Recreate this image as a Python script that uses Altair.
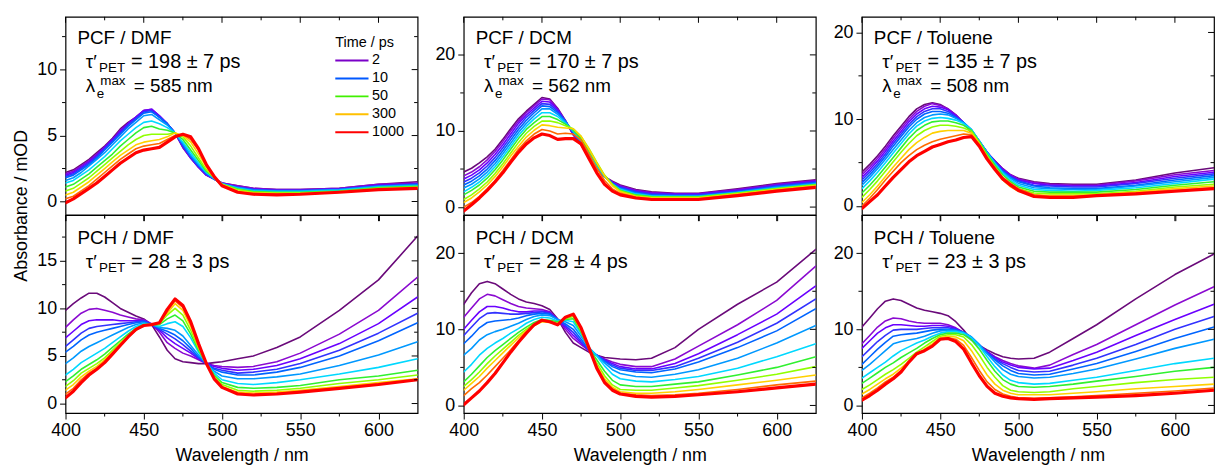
import altair as alt
import pandas as pd

FONT = "Liberation Sans"

wavelength = [400, 405, 410, 415, 420, 425, 430, 435, 440, 445, 450, 455, 460, 465,
              470, 475, 480, 485, 490, 495, 500, 510, 520, 535, 550, 575, 600, 625]

curve_ids = ["c00", "c01", "c02", "c03", "c04", "c05", "c06", "c07", "c08", "c09", "c10", "c11"]
curve_colors = ["#6a0a7a", "#8a0ad0", "#6a00ff", "#3232ff", "#0064ff", "#0098ff",
                "#00d8ff", "#30f030", "#90ff00", "#ffd000", "#ff6a00", "#ff0000"]

pcf_dmf = [
    [2.2, 2.4, 2.8, 3.2, 3.7, 4.2, 4.8, 5.5, 6.0, 6.4, 6.9, 6.9, 6.4, 5.9, 5.2, 4.1, 3.3, 2.6, 2.0, 1.7, 1.4, 1.2, 1.0, 0.9, 0.9, 1.0, 1.3, 1.5],
    [2.1, 2.3, 2.7, 3.1, 3.6, 4.1, 4.7, 5.4, 5.9, 6.4, 6.9, 7.0, 6.5, 5.9, 5.2, 4.1, 3.3, 2.6, 2.0, 1.7, 1.4, 1.2, 1.0, 0.9, 0.9, 1.0, 1.3, 1.4],
    [2.0, 2.2, 2.6, 3.0, 3.5, 4.1, 4.7, 5.3, 5.9, 6.4, 6.9, 7.0, 6.5, 5.9, 5.2, 4.2, 3.3, 2.6, 2.0, 1.7, 1.4, 1.1, 0.95, 0.85, 0.85, 0.95, 1.25, 1.35],
    [1.9, 2.1, 2.5, 2.9, 3.4, 4.0, 4.6, 5.2, 5.8, 6.3, 6.8, 6.9, 6.4, 5.9, 5.2, 4.2, 3.4, 2.7, 2.1, 1.7, 1.35, 1.1, 0.9, 0.85, 0.85, 0.95, 1.2, 1.3],
    [1.8, 2.0, 2.4, 2.8, 3.3, 3.9, 4.5, 5.1, 5.7, 6.2, 6.7, 6.8, 6.4, 5.9, 5.2, 4.3, 3.4, 2.7, 2.1, 1.7, 1.35, 1.05, 0.9, 0.8, 0.8, 0.9, 1.15, 1.3],
    [1.6, 1.8, 2.2, 2.7, 3.2, 3.7, 4.3, 4.9, 5.5, 6.0, 6.5, 6.6, 6.2, 5.8, 5.2, 4.4, 3.5, 2.8, 2.2, 1.7, 1.35, 1.05, 0.85, 0.8, 0.8, 0.9, 1.15, 1.25],
    [1.4, 1.6, 2.0, 2.4, 2.9, 3.4, 4.0, 4.6, 5.1, 5.6, 6.0, 6.1, 5.9, 5.6, 5.2, 4.5, 3.7, 2.9, 2.2, 1.8, 1.35, 1.0, 0.8, 0.75, 0.75, 0.85, 1.1, 1.2],
    [1.1, 1.3, 1.7, 2.1, 2.6, 3.1, 3.6, 4.2, 4.7, 5.2, 5.6, 5.7, 5.5, 5.4, 5.2, 4.7, 3.9, 3.1, 2.3, 1.8, 1.3, 0.95, 0.75, 0.7, 0.7, 0.8, 1.05, 1.15],
    [0.8, 1.0, 1.4, 1.8, 2.3, 2.8, 3.3, 3.8, 4.3, 4.7, 5.0, 5.1, 5.1, 5.1, 5.2, 4.9, 4.2, 3.3, 2.4, 1.8, 1.3, 0.9, 0.7, 0.65, 0.65, 0.75, 1.0, 1.1],
    [0.5, 0.7, 1.1, 1.5, 2.0, 2.5, 3.0, 3.5, 3.9, 4.3, 4.5, 4.6, 4.7, 4.9, 5.2, 5.0, 4.5, 3.6, 2.6, 1.8, 1.3, 0.8, 0.65, 0.6, 0.6, 0.7, 0.95, 1.05],
    [0.2, 0.4, 0.8, 1.2, 1.7, 2.2, 2.7, 3.2, 3.6, 4.0, 4.2, 4.3, 4.4, 4.7, 5.0, 5.1, 4.7, 3.9, 2.7, 1.8, 1.2, 0.7, 0.6, 0.55, 0.55, 0.7, 0.9, 1.0],
    [-0.1, 0.2, 0.6, 1.0, 1.4, 1.9, 2.4, 2.9, 3.3, 3.7, 3.9, 4.0, 4.1, 4.5, 4.9, 5.1, 4.9, 4.0, 2.8, 1.9, 1.2, 0.7, 0.55, 0.5, 0.55, 0.7, 0.9, 1.0],
]

pcf_dcm = [
    [4.6, 5.1, 5.8, 6.6, 7.6, 8.9, 10.3, 11.6, 12.6, 13.5, 14.4, 14.2, 13.0, 11.4, 9.5, 8.2, 6.4, 5.0, 4.0, 3.4, 2.9, 2.3, 2.0, 1.8, 1.8, 2.4, 3.1, 3.6],
    [4.1, 4.6, 5.3, 6.2, 7.3, 8.6, 10.0, 11.3, 12.4, 13.3, 14.2, 14.1, 12.9, 11.3, 9.5, 8.2, 6.5, 5.1, 4.0, 3.3, 2.8, 2.2, 1.9, 1.75, 1.75, 2.3, 3.0, 3.5],
    [3.7, 4.2, 4.9, 5.8, 6.9, 8.2, 9.6, 11.0, 12.1, 13.0, 13.9, 13.8, 12.8, 11.3, 9.6, 8.3, 6.6, 5.2, 4.0, 3.2, 2.7, 2.1, 1.8, 1.7, 1.7, 2.2, 2.9, 3.4],
    [3.3, 3.8, 4.5, 5.4, 6.5, 7.8, 9.2, 10.6, 11.8, 12.7, 13.6, 13.5, 12.6, 11.3, 9.7, 8.4, 6.7, 5.2, 4.0, 3.2, 2.6, 2.0, 1.7, 1.6, 1.6, 2.1, 2.8, 3.3],
    [2.9, 3.4, 4.1, 5.0, 6.1, 7.4, 8.8, 10.2, 11.4, 12.4, 13.3, 13.2, 12.4, 11.3, 9.8, 8.5, 6.8, 5.3, 4.0, 3.1, 2.5, 1.9, 1.6, 1.5, 1.5, 2.0, 2.7, 3.2],
    [2.5, 3.0, 3.7, 4.6, 5.7, 7.0, 8.4, 9.8, 11.0, 12.0, 12.9, 12.9, 12.2, 11.2, 9.9, 8.6, 7.0, 5.4, 4.0, 3.0, 2.4, 1.8, 1.5, 1.45, 1.45, 1.95, 2.6, 3.1],
    [2.0, 2.6, 3.3, 4.2, 5.3, 6.6, 8.0, 9.4, 10.6, 11.6, 12.4, 12.4, 11.9, 11.0, 10.0, 8.8, 7.2, 5.5, 4.0, 3.0, 2.3, 1.7, 1.45, 1.4, 1.4, 1.9, 2.5, 3.0],
    [1.6, 2.2, 2.9, 3.8, 4.9, 6.2, 7.6, 9.0, 10.2, 11.1, 11.9, 11.9, 11.5, 10.9, 10.1, 9.0, 7.4, 5.7, 4.1, 3.0, 2.2, 1.6, 1.4, 1.35, 1.35, 1.85, 2.45, 2.95],
    [1.0, 1.6, 2.4, 3.3, 4.4, 5.7, 7.1, 8.5, 9.7, 10.6, 11.3, 11.3, 11.1, 10.7, 10.3, 9.3, 7.7, 5.9, 4.2, 3.0, 2.1, 1.5, 1.3, 1.3, 1.3, 1.8, 2.4, 2.9],
    [0.6, 1.2, 2.0, 2.9, 4.0, 5.3, 6.7, 8.0, 9.2, 10.1, 10.8, 10.7, 10.5, 10.4, 10.3, 9.3, 7.6, 5.8, 4.1, 2.8, 2.0, 1.4, 1.2, 1.2, 1.2, 1.7, 2.3, 2.8],
    [0.0, 0.6, 1.4, 2.4, 3.5, 4.8, 6.2, 7.6, 8.7, 9.6, 10.2, 10.0, 9.6, 9.7, 9.6, 8.8, 7.0, 5.1, 3.5, 2.4, 1.8, 1.3, 1.1, 1.1, 1.1, 1.6, 2.2, 2.7],
    [-0.5, 0.3, 1.2, 2.2, 3.3, 4.5, 5.9, 7.2, 8.3, 9.1, 9.6, 9.4, 8.9, 9.0, 9.0, 8.3, 6.4, 4.5, 3.0, 2.1, 1.6, 1.2, 1.0, 1.0, 1.0, 1.5, 2.1, 2.6],
]

pcf_tol = [
    [3.9, 4.8, 5.8, 6.9, 8.1, 9.2, 10.3, 11.2, 11.7, 11.9, 11.7, 11.2, 10.5, 9.6, 8.4, 7.3, 6.1, 5.2, 4.3, 3.6, 3.2, 2.8, 2.6, 2.5, 2.5, 3.0, 3.8, 4.4],
    [3.6, 4.5, 5.5, 6.6, 7.8, 8.9, 10.0, 10.9, 11.5, 11.8, 11.6, 11.2, 10.5, 9.6, 8.5, 7.4, 6.2, 5.2, 4.3, 3.6, 3.1, 2.7, 2.5, 2.4, 2.4, 2.9, 3.6, 4.1],
    [3.3, 4.2, 5.2, 6.3, 7.5, 8.6, 9.7, 10.6, 11.2, 11.5, 11.4, 11.1, 10.4, 9.6, 8.6, 7.4, 6.2, 5.1, 4.2, 3.5, 3.0, 2.6, 2.4, 2.3, 2.3, 2.7, 3.4, 3.9],
    [3.0, 3.9, 4.9, 6.0, 7.2, 8.3, 9.4, 10.3, 10.9, 11.2, 11.2, 10.9, 10.3, 9.6, 8.7, 7.5, 6.2, 5.1, 4.1, 3.4, 2.9, 2.4, 2.3, 2.2, 2.2, 2.6, 3.2, 3.7],
    [2.7, 3.6, 4.6, 5.7, 6.9, 8.0, 9.1, 10.0, 10.6, 10.9, 10.9, 10.7, 10.2, 9.6, 8.8, 7.5, 6.2, 5.0, 4.0, 3.3, 2.8, 2.3, 2.1, 2.0, 2.0, 2.4, 3.0, 3.5],
    [2.4, 3.3, 4.3, 5.4, 6.5, 7.6, 8.7, 9.6, 10.2, 10.5, 10.6, 10.5, 10.1, 9.6, 8.8, 7.5, 6.2, 5.0, 3.9, 3.2, 2.6, 2.1, 2.0, 1.9, 1.9, 2.3, 2.8, 3.3],
    [2.0, 2.9, 3.9, 5.0, 6.1, 7.2, 8.3, 9.2, 9.8, 10.1, 10.2, 10.1, 9.9, 9.5, 8.8, 7.5, 6.1, 4.9, 3.8, 3.0, 2.4, 1.9, 1.8, 1.7, 1.8, 2.1, 2.6, 3.1],
    [1.5, 2.4, 3.4, 4.5, 5.6, 6.7, 7.8, 8.7, 9.3, 9.7, 9.8, 9.8, 9.6, 9.3, 8.7, 7.4, 6.0, 4.7, 3.6, 2.8, 2.2, 1.7, 1.6, 1.6, 1.6, 1.9, 2.4, 2.8],
    [1.0, 1.9, 2.9, 4.0, 5.1, 6.2, 7.2, 8.1, 8.7, 9.1, 9.3, 9.3, 9.2, 9.0, 8.6, 7.3, 5.8, 4.5, 3.3, 2.5, 2.0, 1.5, 1.4, 1.4, 1.4, 1.7, 2.2, 2.5],
    [0.4, 1.3, 2.3, 3.4, 4.5, 5.5, 6.5, 7.3, 7.9, 8.4, 8.6, 8.7, 8.7, 8.7, 8.4, 7.2, 5.6, 4.2, 3.0, 2.2, 1.7, 1.3, 1.2, 1.2, 1.3, 1.6, 2.0, 2.3],
    [0.0, 0.9, 1.9, 3.0, 4.0, 5.0, 5.8, 6.5, 7.0, 7.4, 7.7, 7.9, 8.1, 8.3, 8.2, 7.1, 5.6, 4.4, 3.3, 2.6, 2.0, 1.3, 1.1, 1.1, 1.2, 1.5, 1.8, 2.1],
    [-0.3, 0.5, 1.3, 2.3, 3.3, 4.2, 5.1, 5.8, 6.3, 6.8, 7.1, 7.4, 7.6, 7.9, 8.0, 6.9, 5.4, 4.2, 3.1, 2.4, 1.8, 1.1, 1.0, 1.0, 1.2, 1.4, 1.7, 2.0],
]

pch_dmf = [
    [9.8, 10.5, 11.1, 11.6, 11.6, 11.2, 10.6, 10.0, 9.6, 9.2, 8.9, 8.3, 7.0, 5.6, 4.7, 4.4, 4.3, 4.2, 4.2, 4.3, 4.4, 4.7, 5.0, 5.9, 7.0, 9.8, 13.0, 17.6],
    [8.0, 8.8, 9.5, 9.9, 10.0, 9.8, 9.6, 9.3, 9.1, 8.9, 8.8, 8.4, 7.5, 6.4, 5.8, 5.3, 5.0, 4.6, 4.2, 4.0, 3.9, 3.8, 3.9, 4.4, 5.3, 7.3, 9.8, 13.3],
    [6.9, 7.6, 8.3, 8.7, 8.8, 8.8, 8.8, 8.7, 8.7, 8.7, 8.7, 8.3, 7.7, 6.9, 6.3, 5.8, 5.3, 4.7, 4.2, 3.9, 3.7, 3.5, 3.6, 4.0, 4.7, 6.3, 8.4, 11.2],
    [6.0, 6.7, 7.4, 7.9, 8.1, 8.2, 8.3, 8.4, 8.5, 8.6, 8.7, 8.3, 7.8, 7.3, 6.8, 6.2, 5.5, 4.8, 4.2, 3.7, 3.5, 3.2, 3.3, 3.6, 4.2, 5.6, 7.4, 9.5],
    [5.4, 6.0, 6.7, 7.2, 7.5, 7.7, 7.9, 8.1, 8.3, 8.5, 8.6, 8.3, 7.9, 7.6, 7.2, 6.6, 5.8, 4.9, 4.2, 3.6, 3.3, 3.0, 3.0, 3.3, 3.8, 5.0, 6.6, 8.5],
    [4.2, 4.8, 5.5, 6.0, 6.4, 6.8, 7.2, 7.6, 8.0, 8.3, 8.5, 8.3, 8.0, 7.9, 7.7, 7.1, 6.1, 5.1, 4.2, 3.4, 2.9, 2.6, 2.6, 2.8, 3.1, 4.0, 5.1, 6.5],
    [3.0, 3.6, 4.3, 4.8, 5.3, 5.8, 6.4, 7.0, 7.6, 8.1, 8.4, 8.3, 8.1, 8.4, 8.6, 8.1, 6.9, 5.4, 4.2, 3.2, 2.5, 2.1, 2.0, 2.2, 2.5, 3.1, 3.8, 4.7],
    [2.3, 2.9, 3.6, 4.1, 4.6, 5.2, 5.9, 6.6, 7.3, 7.9, 8.3, 8.3, 8.3, 8.9, 9.3, 8.7, 7.3, 5.6, 4.2, 3.0, 2.2, 1.7, 1.6, 1.7, 1.9, 2.5, 2.9, 3.5],
    [1.8, 2.4, 3.2, 3.7, 4.2, 4.8, 5.6, 6.4, 7.1, 7.8, 8.2, 8.3, 8.4, 9.3, 10.0, 9.3, 7.7, 5.8, 4.2, 2.8, 2.0, 1.4, 1.3, 1.4, 1.6, 2.1, 2.5, 3.0],
    [1.4, 2.0, 2.8, 3.4, 3.9, 4.6, 5.4, 6.3, 7.1, 7.8, 8.2, 8.3, 8.5, 9.5, 10.5, 9.8, 8.1, 6.0, 4.2, 2.7, 1.8, 1.2, 1.1, 1.2, 1.4, 1.8, 2.2, 2.6],
    [1.0, 1.6, 2.5, 3.2, 3.7, 4.4, 5.3, 6.2, 7.0, 7.7, 8.2, 8.3, 8.5, 9.7, 10.8, 10.1, 8.4, 6.2, 4.2, 2.6, 1.7, 1.1, 0.95, 1.05, 1.25, 1.65, 2.05, 2.5],
    [0.6, 1.3, 2.2, 3.0, 3.6, 4.3, 5.2, 6.1, 7.0, 7.8, 8.2, 8.3, 8.5, 9.9, 11.0, 10.3, 8.6, 6.3, 4.2, 2.6, 1.7, 1.0, 0.9, 1.0, 1.2, 1.6, 2.0, 2.5],
]

pch_dcm = [
    [13.3, 14.8, 16.0, 16.3, 16.0, 15.3, 14.6, 14.0, 13.6, 13.4, 13.1, 12.6, 11.4, 9.6, 8.2, 7.6, 7.0, 6.6, 6.3, 6.2, 6.1, 6.0, 6.2, 7.6, 10.0, 13.3, 16.2, 20.5],
    [11.6, 12.8, 14.0, 14.6, 14.4, 13.9, 13.4, 13.0, 12.8, 12.7, 12.6, 12.3, 11.3, 10.0, 8.8, 8.0, 7.2, 6.6, 6.1, 5.7, 5.4, 5.1, 5.1, 6.1, 7.8, 10.6, 13.8, 18.3],
    [10.0, 11.2, 12.3, 13.0, 13.0, 12.8, 12.5, 12.3, 12.3, 12.4, 12.4, 12.2, 11.3, 10.3, 9.2, 8.2, 7.2, 6.6, 6.0, 5.5, 5.1, 4.8, 4.8, 5.5, 6.8, 9.3, 12.0, 15.7],
    [9.2, 10.3, 11.4, 12.1, 12.2, 12.1, 12.0, 12.0, 12.1, 12.2, 12.3, 12.1, 11.3, 10.5, 9.6, 8.4, 7.3, 6.6, 5.9, 5.3, 4.9, 4.6, 4.6, 5.1, 6.2, 8.3, 10.8, 14.0],
    [8.1, 9.1, 10.2, 10.9, 11.1, 11.2, 11.3, 11.5, 11.8, 12.0, 12.1, 12.0, 11.3, 10.7, 10.0, 8.7, 7.4, 6.6, 5.8, 5.1, 4.7, 4.4, 4.3, 4.8, 5.7, 7.6, 9.8, 12.7],
    [6.6, 7.5, 8.6, 9.3, 9.7, 10.0, 10.4, 10.8, 11.3, 11.7, 11.9, 11.8, 11.3, 11.0, 10.5, 9.1, 7.6, 6.6, 5.6, 4.7, 4.2, 3.8, 3.7, 4.1, 4.7, 6.2, 8.2, 10.5],
    [4.4, 5.4, 6.6, 7.5, 8.2, 8.8, 9.5, 10.1, 10.8, 11.3, 11.6, 11.5, 11.1, 11.2, 11.0, 9.4, 7.6, 6.5, 5.2, 4.1, 3.5, 3.2, 3.1, 3.4, 3.8, 4.9, 6.4, 8.1],
    [3.1, 4.1, 5.2, 6.3, 7.2, 8.0, 8.8, 9.6, 10.3, 10.9, 11.3, 11.2, 11.0, 11.3, 11.4, 9.6, 7.5, 6.0, 4.5, 3.3, 2.7, 2.5, 2.5, 2.8, 3.1, 4.0, 5.0, 6.4],
    [2.5, 3.4, 4.4, 5.5, 6.5, 7.4, 8.3, 9.2, 10.0, 10.7, 11.1, 11.0, 10.8, 11.4, 11.7, 9.8, 7.4, 5.6, 3.9, 2.7, 2.1, 2.0, 2.0, 2.3, 2.6, 3.3, 4.1, 5.1],
    [2.0, 2.9, 3.8, 4.9, 5.9, 6.9, 7.9, 8.9, 9.8, 10.5, 11.0, 10.9, 10.7, 11.5, 11.9, 10.0, 7.5, 5.3, 3.5, 2.4, 1.8, 1.6, 1.6, 1.8, 2.1, 2.7, 3.3, 4.0],
    [1.3, 2.2, 3.0, 4.0, 5.1, 6.2, 7.3, 8.5, 9.6, 10.5, 11.1, 11.0, 10.6, 11.6, 12.0, 10.1, 7.5, 5.1, 3.2, 2.2, 1.6, 1.4, 1.3, 1.4, 1.6, 2.1, 2.7, 3.2],
    [0.1, 1.0, 1.9, 3.0, 4.2, 5.6, 7.0, 8.3, 9.5, 10.6, 11.2, 11.0, 10.6, 11.6, 12.0, 10.2, 7.6, 4.9, 3.0, 2.0, 1.5, 1.2, 1.1, 1.2, 1.4, 1.8, 2.3, 2.8],
]

pch_tol = [
    [10.3, 11.5, 12.7, 13.7, 14.0, 13.8, 13.3, 12.8, 12.5, 12.3, 12.1, 11.8, 11.0, 9.9, 8.6, 7.9, 7.3, 6.8, 6.4, 6.2, 6.1, 6.2, 7.0, 8.8, 10.6, 14.0, 17.2, 19.9],
    [8.1, 9.2, 10.3, 11.1, 11.5, 11.4, 11.1, 10.9, 10.8, 10.8, 10.8, 10.6, 10.2, 9.6, 8.7, 7.9, 7.1, 6.4, 5.9, 5.5, 5.2, 4.9, 5.3, 6.7, 8.0, 10.6, 13.2, 15.6],
    [7.5, 8.5, 9.5, 10.2, 10.6, 10.6, 10.5, 10.4, 10.4, 10.5, 10.5, 10.4, 10.1, 9.6, 8.8, 7.9, 7.0, 6.3, 5.7, 5.3, 5.0, 4.8, 4.9, 5.9, 7.0, 9.2, 11.3, 13.3],
    [6.4, 7.4, 8.4, 9.2, 9.9, 10.0, 10.0, 10.0, 10.1, 10.2, 10.2, 10.2, 10.0, 9.6, 8.9, 7.9, 6.9, 6.1, 5.5, 5.0, 4.6, 4.4, 4.5, 5.3, 6.2, 8.0, 10.0, 11.7],
    [5.4, 6.4, 7.4, 8.3, 9.1, 9.3, 9.4, 9.5, 9.7, 9.9, 10.0, 10.0, 9.9, 9.6, 9.0, 8.0, 6.9, 6.0, 5.2, 4.6, 4.2, 4.0, 4.1, 4.8, 5.5, 7.1, 8.8, 10.3],
    [4.6, 5.4, 6.3, 7.2, 8.1, 8.4, 8.6, 8.8, 9.1, 9.5, 9.8, 9.9, 9.8, 9.6, 9.0, 8.0, 6.8, 5.7, 4.7, 4.1, 3.8, 3.6, 3.7, 4.2, 4.8, 6.1, 7.5, 8.7],
    [3.6, 4.3, 5.0, 5.7, 6.5, 7.2, 7.7, 8.2, 8.6, 9.1, 9.5, 9.7, 9.7, 9.5, 8.9, 7.8, 6.4, 5.1, 4.0, 3.3, 3.0, 2.8, 2.9, 3.3, 3.7, 4.6, 5.5, 6.2],
    [2.9, 3.6, 4.3, 5.0, 5.6, 6.3, 6.9, 7.5, 8.2, 8.8, 9.3, 9.5, 9.5, 9.3, 8.6, 7.4, 5.9, 4.5, 3.4, 2.8, 2.5, 2.4, 2.5, 2.8, 3.2, 3.8, 4.5, 5.0],
    [2.1, 2.7, 3.4, 4.1, 4.7, 5.4, 6.2, 7.0, 7.7, 8.4, 9.1, 9.3, 9.3, 9.0, 8.0, 6.6, 5.0, 3.7, 2.6, 2.0, 1.8, 1.7, 1.8, 2.2, 2.5, 3.0, 3.4, 3.7],
    [1.5, 2.1, 2.8, 3.5, 4.1, 4.9, 5.8, 6.7, 7.4, 8.1, 8.9, 9.1, 9.0, 8.5, 7.2, 5.6, 4.0, 2.8, 2.0, 1.6, 1.4, 1.4, 1.4, 1.6, 1.8, 2.2, 2.5, 2.8],
    [1.0, 1.6, 2.3, 3.1, 3.7, 4.6, 5.7, 6.7, 7.2, 7.9, 8.8, 8.9, 8.7, 7.9, 6.3, 4.6, 3.1, 2.1, 1.5, 1.2, 1.0, 0.95, 1.0, 1.15, 1.3, 1.6, 1.9, 2.3],
    [0.7, 1.3, 2.0, 2.8, 3.5, 4.4, 5.7, 6.8, 7.2, 7.8, 8.7, 8.8, 8.4, 7.4, 5.6, 3.9, 2.5, 1.6, 1.2, 1.0, 0.9, 0.8, 0.9, 1.0, 1.1, 1.3, 1.6, 2.0],
]

x_major = [400, 450, 500, 550, 600]
x_minor = [425, 475, 525, 575]

legend_times = ["2", "10", "50", "300", "1000"]
legend_colors = ["#7a00c8", "#0058ff", "#40f000", "#ffc000", "#ff0000"]

W, H = 355, 199.5


def long_df(curves):
    rows = []
    for cid, vals in zip(curve_ids, curves):
        for w, v in zip(wavelength, vals):
            rows.append({"wl": w, "v": v, "curve": cid})
    return pd.DataFrame(rows)


def txt(s, x, y, size):
    return alt.Chart(pd.DataFrame({"t": [s]})).mark_text(
        align="left", baseline="alphabetic", font=FONT, fontSize=size, color="black"
    ).encode(x=alt.value(x), y=alt.value(y), text="t:N")


def panel(curves, ydom, ymaj, ymin, bottom, label, tau, lam=None, ytitle=False, legend=False):
    xs = alt.Scale(domain=[400, 625], nice=False, zero=False)
    ys = alt.Scale(domain=ydom, nice=False, zero=False)
    if bottom:
        xaxis = alt.Axis(values=x_major, labelFlush=False, titleY=47.6, titleBaseline="alphabetic",
                         tickSize=6, labelPadding=3)
        xtitle = "Wavelength / nm"
    else:
        xaxis = alt.Axis(values=x_major, labels=False, tickSize=6)
        xtitle = ""
    if ytitle:
        yaxis = alt.Axis(values=ymaj, labelFlush=False, tickSize=6, labelPadding=3,
                         titleX=-39.5, titleY=190, titleBaseline="alphabetic",
                         titleAlign="center", titleAngle=270)
        yt = "Absorbance / mOD"
    else:
        yaxis = alt.Axis(values=ymaj, labelFlush=False, tickSize=6, labelPadding=3)
        yt = ""

    X = alt.X("wl:Q", scale=xs, axis=xaxis, title=xtitle)
    Y = alt.Y("v:Q", scale=ys, axis=yaxis, title=yt)

    lines = alt.Chart(long_df(curves)).mark_line(clip=True, strokeJoin="round", strokeCap="round").encode(
        x=X,
        y=Y,
        color=alt.Color("curve:N", scale=alt.Scale(domain=curve_ids, range=curve_colors), legend=None),
        strokeWidth=alt.condition(alt.datum.curve == curve_ids[-1], alt.value(3.2), alt.value(1.6)),
    )

    def yrule(vals, x1, x2):
        return alt.Chart(pd.DataFrame({"v": vals})).mark_rule(color="black", strokeWidth=1).encode(
            y=Y, x=alt.value(x1), x2=alt.value(x2))

    def xrule(vals, y1, y2):
        return alt.Chart(pd.DataFrame({"wl": vals})).mark_rule(color="black", strokeWidth=1).encode(
            x=X, y=alt.value(y1), y2=alt.value(y2))

    layers = [
        lines,
        yrule(ymin, -3.5, 0),
        yrule(ymaj, W - 6, W),
        yrule(ymin, W - 3.5, W),
        xrule(x_major, 0, 6),
        xrule(x_minor, 0, 3.5),
        xrule(x_minor, H, H + 3.5),
    ]
    ly = 27.5 if lam else 29
    ty = 51.6 if lam else 53.7
    layers += [
        txt(label, 12, ly, 19),
        txt("τ′", 20.5, ty, 19),
        txt("PET", 33.8, ty + 4, 13.5),
        txt("= " + tau, 66, ty, 20),
    ]
    if lam:
        layers += [
            txt("λ", 20.5, 75.6, 19),
            txt("e", 31.5, 82, 13.5),
            txt("max", 35, 69, 13.5),
            txt("= " + lam, 68.8, 75.6, 19),
        ]
    ch = alt.layer(*layers)
    if legend:
        leg_df = pd.DataFrame({"t": legend_times, "c": legend_colors, "i": list(range(len(legend_times)))})
        ly_enc = alt.Y("i:Q", scale=alt.Scale(domain=[0, 4], range=[44, 116.4]), axis=None)
        leg_rules = alt.Chart(leg_df).mark_rule(strokeWidth=2).encode(
            y=ly_enc, x=alt.value(272), x2=alt.value(305.5), color=alt.Color("c:N", scale=None))
        leg_text = alt.Chart(leg_df).mark_text(align="left", baseline="middle", font=FONT,
                                               fontSize=14.5, color="black").encode(
            y=ly_enc, x=alt.value(309), text="t:N")
        ch = alt.layer(ch, leg_rules, leg_text, txt("Time / ps", 272, 30.6, 14.5)).resolve_scale(y="independent")
    return ch.properties(width=W, height=H)


pA = panel(pcf_dmf, [-1, 14], [0, 5, 10], [2.5, 7.5, 12.5], False, "PCF / DMF", "198 ± 7 ps", "585 nm",
           ytitle=True, legend=True)
pB = panel(pcf_dcm, [-1, 25], [0, 10, 20], [5, 15], False, "PCF / DCM", "170 ± 7 ps", "562 nm")
pC = panel(pcf_tol, [-1, 21.8], [0, 10, 20], [5, 15], False, "PCF / Toluene", "135 ± 7 ps", "508 nm")
pD = panel(pch_dmf, [-1, 19.8], [0, 5, 10, 15], [2.5, 7.5, 12.5, 17.5], True, "PCH / DMF", "28 ± 3 ps")
pE = panel(pch_dcm, [-1, 25], [0, 10, 20], [5, 15], True, "PCH / DCM", "28 ± 4 ps")
pF = panel(pch_tol, [-1, 25], [0, 10, 20], [5, 15], True, "PCH / Toluene", "23 ± 3 ps")

chart = alt.concat(pA, pB, pC, pD, pE, pF, columns=3, spacing={"row": 0, "column": 46.5}, bounds="flush").properties(
    padding={"left": 3, "top": 5, "right": 0, "bottom": 2}
).configure_view(stroke="black", strokeWidth=1.2).configure_axis(
    labelFont=FONT, titleFont=FONT, labelFontSize=18, titleFontSize=18, labelColor="black",
    titleColor="black", tickColor="black", tickWidth=1, domain=False, grid=False,
    titleFontWeight="normal"
)

chart.save("out.html", embed_options={"renderer": "svg", "actions": False})
